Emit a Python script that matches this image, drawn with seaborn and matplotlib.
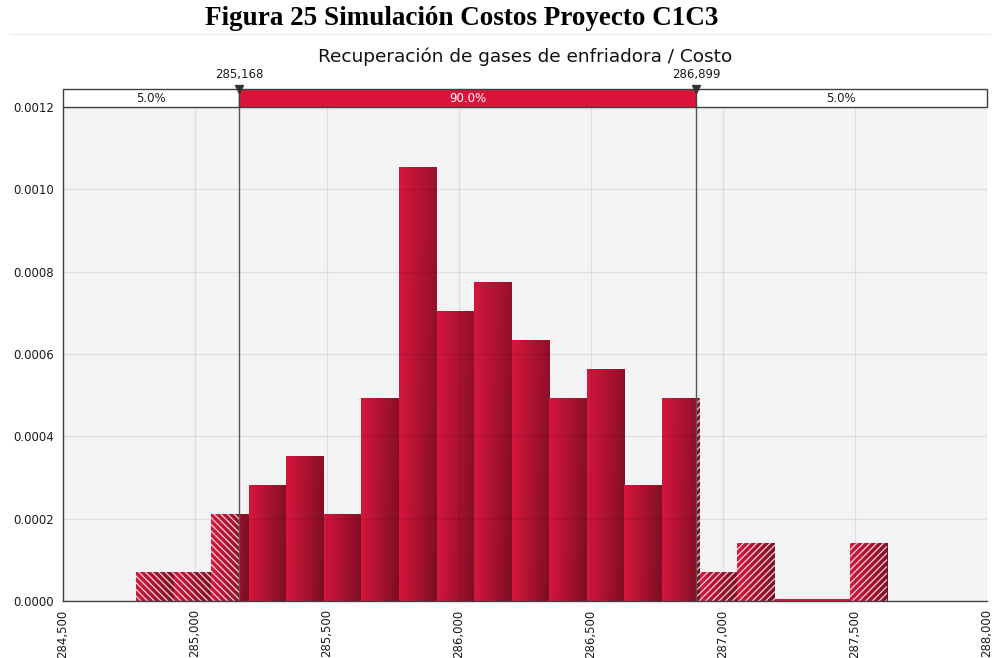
import numpy as np
import pandas as pd
import matplotlib.pyplot as plt
from matplotlib.colors import LinearSegmentedColormap
from matplotlib.patches import Rectangle
from matplotlib.lines import Line2D
import seaborn as sns

# Simulation histogram (100 iterations)
bin_edges = [284778, 284920.3, 285062.6, 285204.9, 285347.2, 285489.5, 285631.8,
             285774.1, 285916.4, 286058.7, 286201, 286343.3, 286485.6, 286627.9,
             286770.2, 286912.5, 287054.8, 287197.1, 287339.4, 287481.7, 287624]
counts = [1, 1, 3, 4, 5, 3, 7, 15, 10, 11, 9, 7, 8, 4, 7, 1, 2, 0, 0, 2]
n_iter = 100

p_low, p_high = 285168, 286899
band_labels = ["5.0%", "90.0%", "5.0%"]
marker_labels = ["285,168", "286,899"]

x_ticks = [284500, 285000, 285500, 286000, 286500, 287000, 287500, 288000]
y_ticks = [0.0, 0.0002, 0.0004, 0.0006, 0.0008, 0.0010, 0.0012]

title = "Figura 25 Simulación Costos Proyecto C1C3"
subtitle = "Recuperación de gases de enfriadora / Costo"

CRIMSON = "#dc143c"
grad_cmap = LinearSegmentedColormap.from_list("bar", ["#d6163d", "#7a0e22"])

sns.set_style("white")
plt.rcParams["font.family"] = ["DejaVu Sans"]
plt.rcParams["hatch.linewidth"] = 1.0

edges = np.array(bin_edges)
widths = np.diff(edges)
df = pd.DataFrame({"cost": edges[:-1] + widths / 2,
                   "density": np.array(counts) / (n_iter * widths)})

fig = plt.figure(figsize=(9.93, 6.58), dpi=100)
L, R, B, T = 62.7 / 993, 986.7 / 993, 1 - 601 / 658, 1 - 107 / 658
ax = fig.add_axes([L, B, R - L, T - B])
ax.set_facecolor("#f4f4f4")

sns.histplot(data=df, x="cost", weights="density", bins=bin_edges, stat="count",
             element="bars", fill=True, linewidth=0, ax=ax)

xmin, xmax = x_ticks[0], x_ticks[-1]
ymax = y_ticks[-1]
xf = np.linspace(0, 1, 128)[None, :]
for patch in list(ax.patches):
    x0, w, h = patch.get_x(), patch.get_width(), patch.get_height()
    patch.set_facecolor("none")
    patch.set_edgecolor("none")
    if h <= 0:
        ax.hlines(0.000003, x0, x0 + w, color=CRIMSON, lw=1.5, zorder=1.6)
        continue
    # left-to-right shading, a bit stronger near the baseline
    yv = np.linspace(h, 0, 64)[:, None]
    shade = xf * (0.55 + 0.45 * (1 - yv / ymax))
    ax.imshow(shade, extent=[x0, x0 + w, 0, h], aspect="auto", cmap=grad_cmap,
              vmin=0, vmax=1, interpolation="bilinear", zorder=1.5)
    # hatched parts outside the 90% interval
    for a, b, hatch in [(x0, min(x0 + w, p_low), "\\\\\\\\\\"),
                        (max(x0, p_high), x0 + w, "/////")]:
        if b > a:
            ax.add_patch(Rectangle((a, 0), b - a, h, fill=False, hatch=hatch,
                                   edgecolor=(1, 1, 1, 0.75), lw=0, zorder=1.6))

ax.axvline(p_low, color="#555555", lw=1, zorder=3)
ax.axvline(p_high, color="#555555", lw=1, zorder=3)

ax.set_xlim(xmin, xmax)
ax.set_ylim(0, ymax)
ax.set_xticks(x_ticks)
ax.set_xticklabels([f"{v:,}" for v in x_ticks], rotation=90, fontsize=8.5)
ax.set_yticks(y_ticks)
ax.set_yticklabels([f"{v:.4f}" for v in y_ticks], fontsize=8.5)
ax.set_xlabel("")
ax.set_ylabel("")
ax.set_axisbelow(False)
ax.grid(True, color="black", alpha=0.08, lw=1)
ax.tick_params(axis="both", direction="out", length=4, width=1,
               color="#444444", labelcolor="#1a1a1a", pad=2)
for side in ["top", "right"]:
    ax.spines[side].set_visible(False)
for side in ["left", "bottom"]:
    ax.spines[side].set_color("#444444")
    ax.spines[side].set_linewidth(1)

# percentile band above the plot
bax = fig.add_axes([L, T, R - L, 18 / 658])
bax.set_xlim(xmin, xmax)
bax.set_ylim(0, 1)
bax.axis("off")
segments = [(xmin, p_low, "white", "#1a1a1a"),
            (p_low, p_high, CRIMSON, "white"),
            (p_high, xmax, "white", "#1a1a1a")]
for (a, b, fc, tc), lab in zip(segments, band_labels):
    bax.add_patch(Rectangle((a, 0), b - a, 1, facecolor=fc, edgecolor="#404040",
                            lw=1, clip_on=False))
    bax.text((a + b) / 2, 0.45, lab, ha="center", va="center", fontsize=8.5, color=tc)
for xv, lab in zip([p_low, p_high], marker_labels):
    bax.plot(xv, 1, marker="v", color="#333333", ms=6, clip_on=False, zorder=5)
    bax.annotate(lab, (xv, 1), xytext=(0, 6), textcoords="offset points",
                 ha="center", va="bottom", fontsize=8.5, color="#1a1a1a")

fig.text(0.465, 0.972, title, ha="center", va="center", fontsize=19.5,
         fontweight="bold", color="black", family=["Liberation Serif", "DejaVu Serif"])
fig.text((L + R) / 2, 1 - 57 / 658, subtitle, ha="center", va="center",
         fontsize=13.3, color="#111111")
fig.add_artist(Line2D([10 / 993, 990 / 993], [1 - 34 / 658, 1 - 34 / 658],
                      color="#eeeeee", lw=1))

fig.savefig("out.png", dpi=100)
